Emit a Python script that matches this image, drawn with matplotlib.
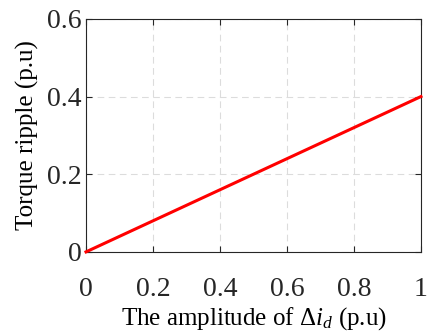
import matplotlib
matplotlib.use("Agg")
from matplotlib import pyplot as plt

amp = [0, 1]
ripple = [0, 0.4]
xticks = [0, 0.2, 0.4, 0.6, 0.8, 1]
xticklabels = ["0", "0.2", "0.4", "0.6", "0.8", "1"]
yticks = [0, 0.2, 0.4, 0.6]
yticklabels = ["0", "0.2", "0.4", "0.6"]

plt.rcParams['font.family'] = ['Liberation Serif', 'DejaVu Serif']
plt.rcParams['mathtext.fontset'] = 'custom'
plt.rcParams['mathtext.rm'] = 'Liberation Serif'
plt.rcParams['mathtext.it'] = 'Liberation Serif:italic'

fig = plt.figure(figsize=(4.3, 3.31), dpi=100)
ax = fig.add_axes([0.2, 0.239, 0.779, 0.704])

ax.plot(amp, ripple, color='#ff0000', linewidth=2.2, clip_on=False, zorder=5)

ax.set_xlim(0, 1)
ax.set_ylim(0, 0.6)
ax.set_xticks(xticks)
ax.set_xticklabels(xticklabels)
ax.set_yticks(yticks)
ax.set_yticklabels(yticklabels)

ax.grid(True, linestyle=(0, (6, 4)), color='#dcdcdc', linewidth=0.8)
ax.set_axisbelow(True)
ax.tick_params(direction='in', length=4, width=0.8, colors='#262626',
               labelsize=20, top=True, right=True)
ax.tick_params(axis='x', pad=18)
ax.tick_params(axis='y', pad=3)
for s in ax.spines.values():
    s.set_color('#262626')
    s.set_linewidth(0.8)

ax.set_xlabel(r"The amplitude of $\Delta i_d$ (p.u)", fontsize=18, color='black', labelpad=2)
ax.set_ylabel("Torque ripple (p.u)", fontsize=18, color='black', labelpad=6)

fig.savefig("out.png", dpi=100)
